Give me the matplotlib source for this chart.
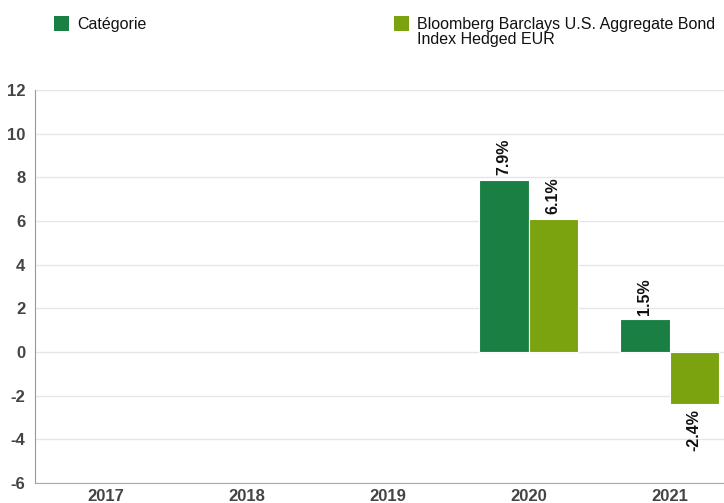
import matplotlib

matplotlib.use("Agg")
import matplotlib.pyplot as plt
import numpy as np
from matplotlib.patches import Rectangle

years = ["2017", "2018", "2019", "2020", "2021"]
categorie = [None, None, None, 7.9, 1.5]
indice = [None, None, None, 6.1, -2.4]
series_names = ["Catégorie", "Bloomberg Barclays U.S. Aggregate Bond\nIndex Hedged EUR"]
yticks = [-6, -4, -2, 0, 2, 4, 6, 8, 10, 12]

DARK = "#1a7f43"
LIGHT = "#7aa30f"
TXT = "#444444"

plt.rcParams["font.family"] = ["Liberation Sans", "DejaVu Sans"]

W, H = 724, 503
fig = plt.figure(figsize=(W / 100, H / 100), dpi=100, facecolor="white")
# axes spans 35px..740px (clipped by the figure edge), 90px..483px
ax = fig.add_axes([35 / W, (H - 483) / H, 705 / W, (483 - 90) / H])

x = np.arange(len(years))
bw = 0.35
for i in range(len(years)):
    for val, off, col in ((categorie[i], -bw / 2, DARK), (indice[i], bw / 2, LIGHT)):
        if val is None:
            continue
        ax.bar(x[i] + off, val, width=bw, color=col, edgecolor="white", linewidth=0.8, zorder=3)
        lbl = f"{val:.1f}%"
        if val >= 0:
            ax.text(x[i] + off, val + 0.2, lbl, rotation=90, ha="center", va="bottom",
                    fontsize=11.5, fontweight="bold", color="#111111", zorder=4)
        else:
            ax.text(x[i] + off, val - 0.2, lbl, rotation=90, ha="center", va="top",
                    fontsize=11.5, fontweight="bold", color="#111111", zorder=4)

ax.set_xlim(-0.5, 4.5)
ax.set_ylim(-6, 12)
ax.set_yticks(yticks)
ax.set_yticklabels([str(t) for t in yticks])
ax.set_xticks(x)
ax.set_xticklabels(years)
ax.grid(axis="y", color="#e6e6e6", linewidth=1, zorder=0)
ax.tick_params(axis="both", length=0, labelsize=12, colors=TXT)
ax.tick_params(axis="y", pad=7)
ax.tick_params(axis="x", pad=4)
for lab in ax.get_xticklabels() + ax.get_yticklabels():
    lab.set_fontweight("bold")
for s in ("top", "right"):
    ax.spines[s].set_visible(False)
ax.spines["left"].set_color("#999999")
ax.spines["bottom"].set_color("#aaaaaa")

# legend drawn by hand at the top
for (px, name, col) in ((54, series_names[0], DARK), (394, series_names[1], LIGHT)):
    fig.patches.append(Rectangle((px / W, (H - 31) / H), 15 / W, 15 / H,
                                 transform=fig.transFigure, facecolor=col, edgecolor="none"))
    fig.text((px + 23) / W, (H - 17) / H, name, ha="left", va="top",
             fontsize=11.5, color="#111111", linespacing=1.0)

fig.savefig("out.png", dpi=100, facecolor="white")
